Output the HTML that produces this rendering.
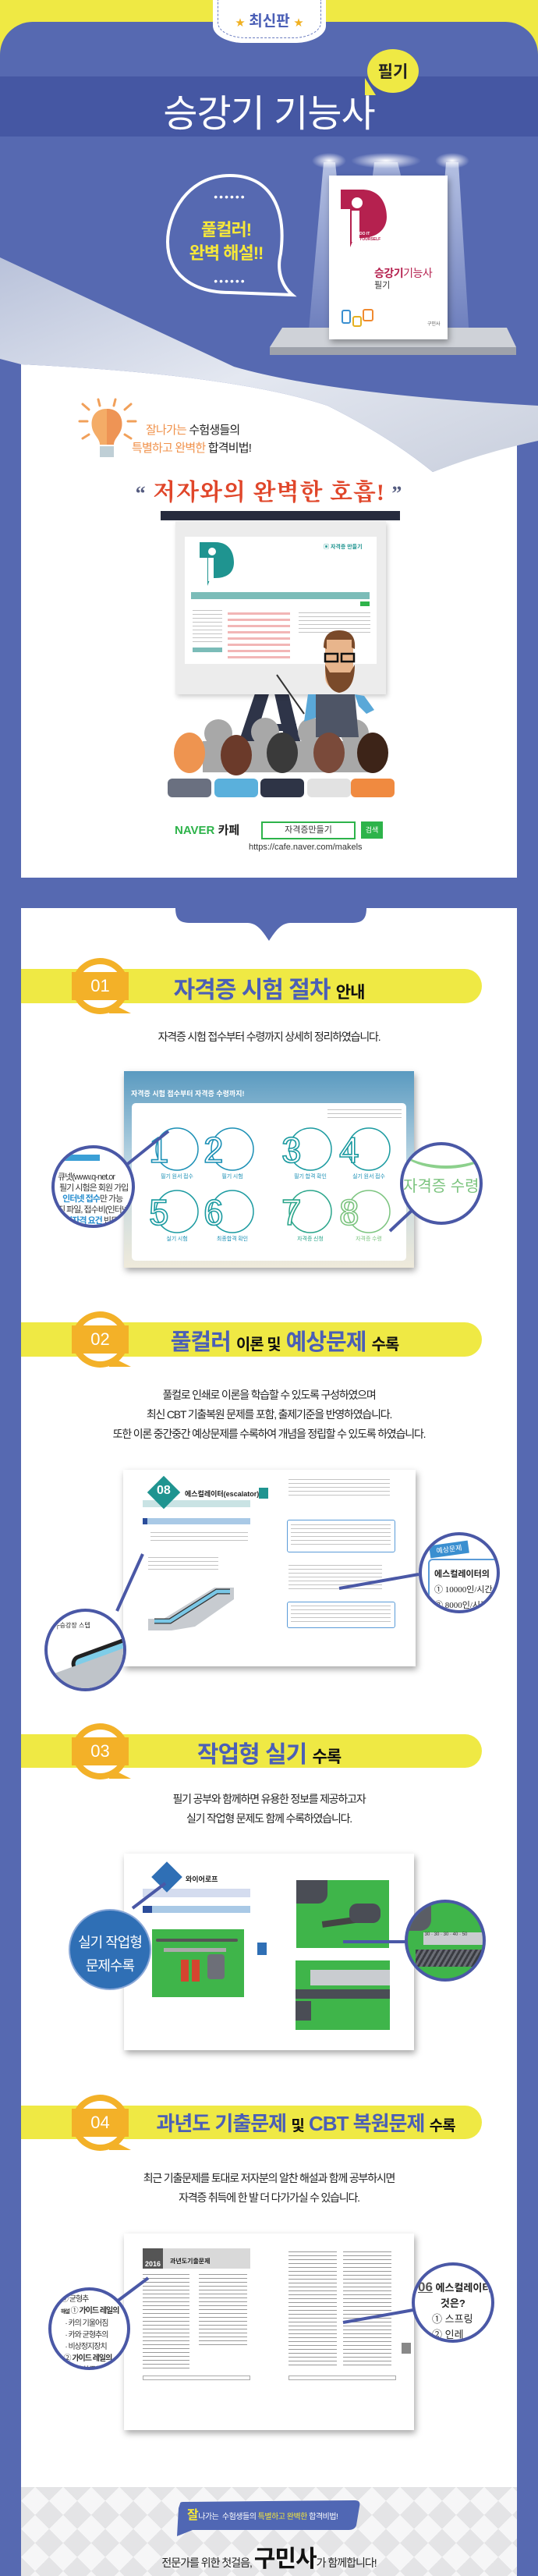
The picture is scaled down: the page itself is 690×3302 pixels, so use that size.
<!DOCTYPE html>
<html><head><meta charset="utf-8">
<style>
*{margin:0;padding:0;box-sizing:border-box}
body{width:690px;height:3302px;overflow:hidden;background:#5669b1;position:relative;font-family:"Liberation Sans","Noto Sans CJK KR",sans-serif}
.a{position:absolute}
.c{text-align:center;white-space:nowrap}
.tx{background:repeating-linear-gradient(#c4c4c4 0 1px,transparent 1px 5px)}
.txd{background:repeating-linear-gradient(#9a9a9a 0 1px,transparent 1px 5px)}
.shadow{box-shadow:2px 4px 8px rgba(0,0,0,.35)}
.body{font-size:14px;letter-spacing:-1.2px;color:#222;line-height:25px}
.mag{border:4px solid #4a58a6;border-radius:50%;background:#fff;overflow:hidden}
</style></head><body>

<!-- top -->
<div class="a" style="left:0;top:0;width:690px;height:70px;background:#efe944"></div>
<div class="a" style="left:0;top:28px;width:690px;height:3274px;background:#5669b1;border-radius:42px 42px 0 0"></div>
<div class="a" style="left:0;top:98px;width:690px;height:77px;background:#4557a3"></div>
<div class="a" style="left:273px;top:0;width:145px;height:55px;background:#fff;border-radius:0 0 40px 40px/0 0 22px 22px"></div>
<div class="a" style="left:279px;top:0;width:133px;height:49px;border:1.5px dashed #6a7cc0;border-top:none;border-radius:0 0 36px 36px/0 0 20px 20px"></div>
<div class="a c" style="left:273px;top:12px;width:145px;font-size:19px;font-weight:bold;color:#4b5fb6"><span style="color:#f0b020;font-size:12px">★</span> 최신판 <span style="color:#f0b020;font-size:12px">★</span></div>
<div class="a c" style="left:145px;top:106px;width:400px;font-size:48px;color:#fff;letter-spacing:-1px">승강기 기능사</div>
<div class="a" style="left:471px;top:63px;width:66px;height:56px;background:#efe944;border-radius:50%"></div>
<div class="a" style="left:468px;top:100px;width:0;height:0;border-left:14px solid #efe944;border-top:22px solid transparent;transform:rotate(0deg)"></div>
<div class="a c" style="left:471px;top:76px;width:66px;font-size:21px;font-weight:bold;color:#222">필기</div>

<!-- speech bubble -->
<svg class="a" style="left:200px;top:215px" width="190" height="180">
<path d="M95,10 C40,10 15,60 15,95 C15,135 45,160 95,160 L175,163 C160,150 155,130 160,110 C168,50 145,10 95,10 Z" fill="none" stroke="#fff" stroke-width="4"/>
<text x="95" y="42" fill="#fff" font-size="14" text-anchor="middle" letter-spacing="2">••••••</text>
<text x="95" y="150" fill="#fff" font-size="14" text-anchor="middle" letter-spacing="2">••••••</text>
</svg>
<div class="a c" style="left:210px;top:280px;width:160px;font-size:22px;font-weight:bold;color:#f5e73a;line-height:30px;letter-spacing:-1px">풀컬러!<br>완벽 해설!!</div>

<!-- spotlights -->
<svg class="a" style="left:340px;top:190px" width="330" height="270">
<defs><radialGradient id="g"><stop offset="0" stop-color="#fff"/><stop offset="1" stop-color="#fff" stop-opacity="0"/></radialGradient>
<linearGradient id="cone" x1="0" y1="0" x2="0" y2="1"><stop offset="0" stop-color="#dde6f8" stop-opacity=".7"/><stop offset="1" stop-color="#dde6f8" stop-opacity=".15"/></linearGradient></defs>
<polygon points="75,18 90,18 112,245 55,245" fill="url(#cone)"/>
<polygon points="140,18 170,18 180,60 135,60" fill="url(#cone)"/>
<polygon points="232,18 248,18 262,245 215,245" fill="url(#cone)"/>
<ellipse cx="82" cy="16" rx="22" ry="10" fill="url(#g)"/>
<ellipse cx="155" cy="16" rx="45" ry="10" fill="url(#g)"/>
<ellipse cx="240" cy="16" rx="22" ry="10" fill="url(#g)"/>
<ellipse cx="88" cy="248" rx="40" ry="10" fill="url(#g)"/>
<ellipse cx="245" cy="248" rx="40" ry="10" fill="url(#g)"/>
</svg>
<!-- shelf -->
<svg class="a" style="left:340px;top:415px" width="330" height="45">
<polygon points="22,5 310,5 322,30 6,30" fill="#cfd2d8"/>
<rect x="6" y="30" width="316" height="10" fill="#9ea2ab"/>
</svg>
<!-- book -->
<div class="a shadow" style="left:422px;top:225px;width:152px;height:210px;background:#fff"></div>
<svg class="a" style="left:434px;top:240px" width="70" height="80">
<path d="M3,3 L30,3 C58,3 62,28 62,38 C62,55 48,65 30,65 L20,65 L15,77 L15,28 L3,28 Z" fill="#b5214f"/>
<circle cx="24" cy="20" r="7" fill="#fff"/><rect x="17" y="30" width="10" height="40" fill="#fff"/>
<text x="27" y="61" fill="#fff" font-size="5" font-weight="bold">DO IT</text><text x="27" y="68" fill="#b5214f" font-size="5" font-weight="bold">YOURSELF</text>
</svg>
<div class="a" style="left:480px;top:340px;font-size:14px;font-weight:bold;color:#b5214f;white-space:nowrap;letter-spacing:-0.5px">승강기<span style="font-weight:normal">기능사</span></div>
<div class="a" style="left:480px;top:357px;font-size:11px;color:#333">필기</div>
<div class="a" style="left:438px;top:397px;width:12px;height:18px;border:2px solid #3a8fd0;border-radius:3px"></div>
<div class="a" style="left:452px;top:405px;width:12px;height:14px;border:2px solid #e5b020;border-radius:3px"></div>
<div class="a" style="left:465px;top:396px;width:14px;height:16px;border:2px solid #f08a30;border-radius:3px"></div>
<div class="a" style="left:548px;top:410px;font-size:6px;color:#555">구민사</div>

<!-- white panel 1 -->
<div class="a" style="left:27px;top:462px;width:636px;height:663px;background:#fff"></div>
<svg class="a" style="left:0;top:300px" width="690" height="330">
<defs><linearGradient id="curl" x1="0" y1="0" x2="1" y2="1"><stop offset="0" stop-color="#b9c2da"/><stop offset=".5" stop-color="#e4e8f1"/><stop offset="1" stop-color="#c9cfdd"/></linearGradient></defs>
<path d="M27,160 L27,167 Q300,180 420,220 Q500,260 555,305 Q620,280 663,270 L663,160 Z" fill="#5669b1"/>
<path d="M0,30 Q150,100 300,170 Q420,205 690,220 L690,265 Q620,280 555,305 Q500,260 420,220 Q300,180 27,167 L0,160 Z" fill="url(#curl)"/>
</svg>

<!-- bulb -->
<svg class="a" style="left:98px;top:510px" width="80" height="82">
<g stroke="#f1a05a" stroke-width="3" stroke-linecap="round"><line x1="4" y1="30" x2="14" y2="30"/><line x1="8" y1="8" x2="16" y2="15"/><line x1="28" y1="2" x2="30" y2="10"/><line x1="50" y1="2" x2="48" y2="10"/><line x1="70" y1="8" x2="62" y2="15"/><line x1="76" y1="30" x2="66" y2="30"/><line x1="8" y1="52" x2="16" y2="47"/><line x1="70" y1="52" x2="62" y2="47"/></g>
<path d="M39,14 C22,14 18,28 20,38 C22,48 30,52 30,60 L48,60 C48,52 56,48 58,38 C60,28 56,14 39,14Z" fill="#f4ac67"/>
<path d="M39,14 L39,60 L48,60 C48,52 56,48 58,38 C60,28 56,14 39,14Z" fill="#ee9455"/>
<rect x="30" y="62" width="18" height="14" fill="#bfcfd6"/>
</svg>
<div class="a" style="left:187px;top:540px;font-size:15px;letter-spacing:-0.8px;color:#222;white-space:nowrap"><span style="color:#f0914a">잘나가는</span> 수험생들의</div>
<div class="a" style="left:169px;top:563px;font-size:15px;letter-spacing:-0.8px;color:#222;white-space:nowrap"><span style="color:#f0914a">특별하고 완벽한</span> 합격비법!</div>
<div class="a c" style="left:145px;top:606px;width:400px;font-size:30px;color:#e0462a;font-family:'Liberation Serif','Noto Serif CJK SC',serif;font-weight:bold;letter-spacing:1px"><span style="color:#555c80;font-size:26px">“</span> 저자와의 완벽한 호흡! <span style="color:#555c80;font-size:26px">”</span></div>

<!-- projector -->
<div class="a" style="left:206px;top:655px;width:307px;height:12px;background:#262b3d"></div>
<svg class="a" style="left:290px;top:880px" width="120" height="90"><polygon points="40,0 58,0 30,90 10,90" fill="#2e3448"/><polygon points="60,0 78,0 100,90 80,90" fill="#2e3448"/><rect x="25" y="48" width="65" height="9" fill="#2e3448"/></svg>
<div class="a" style="left:225px;top:668px;width:270px;height:222px;background:#ececec;box-shadow:2px 3px 6px rgba(0,0,0,.2)"></div>
<div class="a" style="left:237px;top:688px;width:246px;height:163px;background:#fff"></div>
<svg class="a" style="left:254px;top:693px" width="50" height="60"><path d="M2,2 L22,2 C42,2 46,18 46,28 C46,42 36,48 22,48 L16,48 L12,58 L12,22 L2,22 Z" fill="#1f9490"/><circle cx="18" cy="14" r="5" fill="#fff"/><rect x="13" y="22" width="7" height="30" fill="#fff"/></svg>
<div class="a" style="left:415px;top:696px;font-size:7px;color:#1f9490;font-weight:bold">▣ 자격증 만들기</div>
<div class="a" style="left:245px;top:759px;width:229px;height:9px;background:#7bbcb8"></div>
<div class="a" style="left:462px;top:771px;width:12px;height:6px;background:#2fb34a"></div>
<div class="a tx" style="left:247px;top:782px;width:38px;height:44px"></div>
<div class="a" style="left:247px;top:830px;width:38px;height:6px;background:#7bbcb8"></div>
<div class="a" style="left:292px;top:785px;width:80px;height:60px;background:repeating-linear-gradient(#f2b6b6 0 3px,transparent 3px 8px)"></div>
<div class="a tx" style="left:383px;top:785px;width:92px;height:30px"></div>

<!-- audience -->
<svg class="a" style="left:205px;top:800px" width="310" height="225">
<g fill="#a8a8a8"><circle cx="75" cy="140" r="18"/><circle cx="135" cy="138" r="18"/><circle cx="195" cy="138" r="18"/><circle cx="250" cy="140" r="18"/><rect x="55" y="150" width="220" height="40"/></g>
<!-- teacher -->
<path d="M200,90 L250,90 L255,145 L200,145 Z" fill="#4e5566"/>
<path d="M190,90 L200,90 L200,120 L185,125 Z" fill="#5aa8d8"/><path d="M250,90 L262,92 L275,110 L265,115 L255,105Z" fill="#5aa8d8"/>
<line x1="150" y1="65" x2="185" y2="115" stroke="#333" stroke-width="2"/>
<rect x="212" y="12" width="36" height="72" rx="16" fill="#e8b58c"/>
<path d="M210,30 Q210,8 230,8 Q252,8 250,32 L246,30 L246,20 L214,20 L214,32Z" fill="#7a4a2a"/>
<path d="M212,52 Q212,85 230,88 Q250,85 250,52 L244,62 L218,62Z" fill="#7a4a2a"/>
<rect x="212" y="38" width="16" height="10" fill="none" stroke="#111" stroke-width="2.5"/><rect x="233" y="38" width="16" height="10" fill="none" stroke="#111" stroke-width="2.5"/>
<!-- front row -->
<g><ellipse cx="38" cy="165" rx="20" ry="26" fill="#ee9450"/><rect x="10" y="198" width="56" height="24" rx="6" fill="#6a7080"/>
<ellipse cx="98" cy="168" rx="20" ry="26" fill="#6b3a2a"/><rect x="70" y="198" width="56" height="24" rx="6" fill="#5ab0dc"/>
<ellipse cx="157" cy="165" rx="20" ry="26" fill="#3a3a3a"/><rect x="129" y="198" width="56" height="24" rx="6" fill="#2e3446"/>
<ellipse cx="217" cy="165" rx="20" ry="26" fill="#7a4a3a"/><rect x="189" y="198" width="56" height="24" rx="6" fill="#e2e2e2"/>
<ellipse cx="273" cy="165" rx="20" ry="26" fill="#3d2418"/><rect x="245" y="198" width="56" height="24" rx="6" fill="#f08a40"/></g>
</svg>

<!-- naver -->
<div class="a" style="left:224px;top:1053px;font-size:15px;font-weight:bold;white-space:nowrap"><span style="color:#2db34a">NAVER</span> <span style="color:#222">카페</span></div>
<div class="a c" style="left:335px;top:1053px;width:121px;height:23px;border:2px solid #2db34a;font-size:11px;line-height:19px;color:#333">자격증만들기</div>
<div class="a c" style="left:463px;top:1053px;width:28px;height:22px;background:#2db34a;color:#fff;font-size:9px;line-height:22px">검색</div>
<div class="a" style="left:319px;top:1080px;font-size:11px;color:#333">https://cafe.naver.com/makels</div>

<!-- white panel 2 -->
<div class="a" style="left:27px;top:1164px;width:636px;height:2138px;background:#fff"></div>
<svg class="a" style="left:225px;top:1164px" width="245" height="45"><path d="M0,0 L245,0 C245,16 238,19 225,19 L148,19 C135,19 128,30 120,42 C112,30 105,19 92,19 L20,19 C7,19 0,16 0,0Z" fill="#5669b1"/></svg>

<!-- section header template -->
<!-- 01 -->
<div class="a" style="left:27px;top:1242px;width:591px;height:44px;background:#efe944;border-radius:0 22px 22px 0"></div>
<div class="a" style="left:92px;top:1228px;width:73px;height:72px;border-radius:50%;background:#f3b128"></div>
<div class="a" style="left:140px;top:1285px;width:0;height:0;border-left:28px solid #f3b128;border-top:14px solid transparent"></div>
<div class="a" style="left:100px;top:1236px;width:57px;height:56px;border-radius:50%;background:#fff"></div>
<div class="a c" style="left:92px;top:1246px;width:73px;height:36px;background:#f3b128;color:#fff;font-size:22px;line-height:36px">01</div>
<div class="a c" style="left:45px;top:1244px;width:600px;font-size:30px;font-weight:bold;letter-spacing:-1px;color:#4b5fb6">자격증 시험 절차 <span style="font-size:21px;color:#111">안내</span></div>
<div class="a c body" style="left:45px;top:1317px;width:600px">자격증 시험 접수부터 수령까지 상세히 정리하였습니다.</div>

<!-- image 01 -->
<div class="a shadow" style="left:159px;top:1373px;width:372px;height:252px;background:linear-gradient(#5a9ac0,#b8d4e2 45%,#efeadb)"></div>
<div class="a" style="left:168px;top:1395px;font-size:9px;font-weight:bold;color:#fff;white-space:nowrap">자격증 시험 접수부터 자격증 수령까지!</div>
<div class="a" style="left:169px;top:1414px;width:352px;height:202px;background:#fff;border-radius:5px"></div>
<div class="a tx" style="left:420px;top:1422px;width:95px;height:12px"></div>
<svg class="a" style="left:169px;top:1414px" width="352" height="202" font-family="Liberation Sans">
<g fill="none" stroke-width="1.5">
<g stroke="#1a8fb5"><circle cx="58" cy="59" r="27"/><circle cx="129" cy="59" r="27"/></g>
<g stroke="#1a9aa0"><circle cx="229" cy="59" r="27"/><circle cx="304" cy="59" r="27"/><circle cx="58" cy="139" r="27"/><circle cx="129" cy="139" r="27"/></g>
<g stroke="#2aa58a"><circle cx="229" cy="139" r="27"/></g><g stroke="#7cc47f"><circle cx="304" cy="139" r="27"/></g></g>
<g font-size="46" fill="#fff" stroke-width="1.6">
<text x="22" y="76" stroke="#1a8fb5">1</text><text x="92" y="76" stroke="#1a8fb5">2</text><text x="192" y="76" stroke="#1a9aa0">3</text><text x="266" y="76" stroke="#1a9aa0">4</text>
<text x="22" y="156" stroke="#1a9aa0">5</text><text x="92" y="156" stroke="#1a9aa0">6</text><text x="192" y="156" stroke="#2aa58a">7</text><text x="266" y="156" stroke="#7cc47f">8</text></g>
<g font-size="7" fill="#1a8fb5" text-anchor="middle" font-family="Noto Sans CJK KR"><text x="58" y="96">필기 원서 접수</text><text x="129" y="96">필기 시험</text><text x="229" y="96">필기 합격 확인</text><text x="304" y="96">실기 원서 접수</text>
<text x="58" y="176">실기 시험</text><text x="129" y="176">최종합격 확인</text><text x="229" y="176" fill="#2aa58a">자격증 신청</text><text x="304" y="176" fill="#7cc47f">자격증 수령</text></g>
</svg>
<svg class="a" style="left:0;top:1400px" width="690" height="240"><line x1="160" y1="95" x2="216" y2="50" stroke="#4a58a6" stroke-width="4"/><line x1="530" y1="150" x2="500" y2="178" stroke="#4a58a6" stroke-width="4"/></svg>
<div class="a mag" style="left:66px;top:1468px;width:107px;height:106px">
<div style="position:absolute;left:-2px;top:8px;width:60px;height:8px;background:#3a9fd6"></div>
<div style="position:absolute;left:4px;top:30px;font-size:11px;line-height:14px;color:#333;white-space:nowrap;letter-spacing:-1px">큐넷(www.q-net.or<br>&nbsp;필기 시험은 회원 가입<br>&nbsp;&nbsp;&nbsp;<b style="color:#2a8fd0">인터넷 접수</b>만 가능<br>진 파일, 접수비(인터넷<br><b style="color:#2a8fd0">응시자격 요건</b> 빈드시</div></div>
<div class="a mag" style="left:513px;top:1464px;width:106px;height:106px">
<div style="position:absolute;left:-10px;top:-40px;width:130px;height:70px;border-bottom:4px solid #8cd08c;border-radius:50%"></div>
<div style="position:absolute;left:0;top:36px;font-size:20px;color:#7cc47f;white-space:nowrap">자격증 수령</div></div>

<!-- 02 -->
<div class="a" style="left:27px;top:1695px;width:591px;height:44px;background:#efe944;border-radius:0 22px 22px 0"></div>
<div class="a" style="left:92px;top:1681px;width:73px;height:72px;border-radius:50%;background:#f3b128"></div>
<div class="a" style="left:140px;top:1738px;width:0;height:0;border-left:28px solid #f3b128;border-top:14px solid transparent"></div>
<div class="a" style="left:100px;top:1689px;width:57px;height:56px;border-radius:50%;background:#fff"></div>
<div class="a c" style="left:92px;top:1699px;width:73px;height:36px;background:#f3b128;color:#fff;font-size:22px;line-height:36px">02</div>
<div class="a c" style="left:65px;top:1697px;width:600px;font-size:29px;font-weight:bold;letter-spacing:-1px;color:#4b5fb6">풀컬러 <span style="font-size:20px;color:#111">이론 및</span> 예상문제 <span style="font-size:20px;color:#111">수록</span></div>
<div class="a c body" style="left:45px;top:1776px;width:600px">풀컬로 인쇄로 이론을 학습할 수 있도록 구성하였으며<br>최신 CBT 기출복원 문제를 포함, 출제기준을 반영하였습니다.<br>또한 이론 중간중간 예상문제를 수록하여 개념을 정립할 수 있도록 하였습니다.</div>

<div class="a shadow" style="left:158px;top:1884px;width:375px;height:252px;background:#fff"></div>
<div class="a" style="left:183px;top:1902px;width:138px;height:30px;background:linear-gradient(#fff 0 70%,#c9e3e4 70%)"></div>
<div class="a" style="left:195px;top:1898px;width:30px;height:30px;background:#1f9490;transform:rotate(45deg)"></div>
<div class="a" style="left:201px;top:1902px;font-size:16px;color:#fff;font-weight:bold">08</div>
<div class="a" style="left:237px;top:1908px;font-size:9px;font-weight:bold;color:#222;white-space:nowrap">에스컬레이터(escalator)</div>
<div class="a" style="left:332px;top:1907px;width:12px;height:14px;background:#1f9490"></div>
<div class="a" style="left:183px;top:1946px;width:138px;height:8px;background:#a9c9e6;border-left:6px solid #2a4c9a"></div>
<div class="a tx" style="left:193px;top:1964px;width:125px;height:14px"></div>
<div class="a tx" style="left:190px;top:1996px;width:90px;height:20px"></div>
<svg class="a" style="left:190px;top:2030px" width="120" height="60"><polygon points="0,60 0,45 20,45 85,5 110,5 110,20 60,55 30,60" fill="#c7cbd0"/><path d="M8,48 L28,48 L88,10 L105,10" stroke="#333" stroke-width="7" fill="none"/><path d="M8,48 L28,48 L88,10 L105,10" stroke="#79c7e6" stroke-width="4.5" fill="none"/></svg>
<div class="a tx" style="left:370px;top:1896px;width:130px;height:24px"></div>
<div class="a" style="left:368px;top:1948px;width:139px;height:42px;border:1.5px solid #5a9bd8;border-radius:3px"></div>
<div class="a tx" style="left:373px;top:1954px;width:128px;height:30px"></div>
<div class="a tx" style="left:370px;top:2006px;width:120px;height:34px"></div>
<div class="a" style="left:368px;top:2053px;width:139px;height:34px;border:1.5px solid #5a9bd8;border-radius:3px"></div>
<div class="a tx" style="left:373px;top:2058px;width:128px;height:24px"></div>
<svg class="a" style="left:0;top:1950px" width="690" height="140"><line x1="183" y1="42" x2="150" y2="115" stroke="#4a58a6" stroke-width="4"/><line x1="537" y1="68" x2="435" y2="86" stroke="#4a58a6" stroke-width="4"/></svg>
<div class="a mag" style="left:57px;top:2062px;width:105px;height:106px;background:#fff">
<div style="position:absolute;left:10px;top:12px;font-size:8px;color:#222;white-space:nowrap">┌승강장 스텝</div>
<div style="position:absolute;left:28px;top:40px;width:110px;height:24px;border:5px solid #222;border-radius:12px;background:#7fcde8;transform:rotate(-20deg)"></div>
<div style="position:absolute;left:0;top:62px;width:120px;height:50px;background:#bfc4c9;transform:rotate(-20deg)"></div></div>
<div class="a mag" style="left:537px;top:1964px;width:104px;height:104px">
<div style="position:absolute;left:10px;top:10px;width:50px;height:16px;background:#3a8fd0;color:#fff;font-size:9px;line-height:16px;text-align:center;transform:rotate(-8deg)">예상문제</div>
<div style="position:absolute;left:8px;top:30px;width:110px;height:70px;border:2px solid #5a9bd8;border-radius:6px"></div>
<div style="position:absolute;left:16px;top:40px;font-size:11px;font-weight:bold;color:#222;white-space:nowrap;line-height:20px">에스컬레이터의<br><span style="font-weight:normal;font-family:'Liberation Serif',serif">① 10000인/시간<br>③ 8000인/시간</span></div></div>

<!-- 03 -->
<div class="a" style="left:27px;top:2223px;width:591px;height:43px;background:#efe944;border-radius:0 22px 22px 0"></div>
<div class="a" style="left:92px;top:2209px;width:73px;height:72px;border-radius:50%;background:#f3b128"></div>
<div class="a" style="left:140px;top:2266px;width:0;height:0;border-left:28px solid #f3b128;border-top:14px solid transparent"></div>
<div class="a" style="left:100px;top:2217px;width:57px;height:56px;border-radius:50%;background:#fff"></div>
<div class="a c" style="left:92px;top:2227px;width:73px;height:36px;background:#f3b128;color:#fff;font-size:22px;line-height:36px">03</div>
<div class="a c" style="left:45px;top:2224px;width:600px;font-size:30px;font-weight:bold;letter-spacing:-1px;color:#4b5fb6">작업형 실기 <span style="font-size:21px;color:#111">수록</span></div>
<div class="a c body" style="left:45px;top:2294px;width:600px">필기 공부와 함께하면 유용한 정보를 제공하고자<br>실기 작업형 문제도 함께 수록하였습니다.</div>

<div class="a shadow" style="left:159px;top:2376px;width:372px;height:252px;background:#fff"></div>
<div class="a" style="left:183px;top:2396px;width:138px;height:36px;background:linear-gradient(#fff 0 70%,#d4dcef 70%)"></div>
<div class="a" style="left:200px;top:2392px;width:28px;height:28px;background:#2f6fb5;transform:rotate(45deg)"></div>
<div class="a" style="left:238px;top:2402px;font-size:9px;font-weight:bold;color:#222">와이어로프</div>
<div class="a" style="left:183px;top:2443px;width:138px;height:9px;background:#a9c9e6;border-left:12px solid #2a4c9a"></div>
<div class="a" style="left:195px;top:2473px;width:118px;height:87px;background:#3fb54a"></div>
<div class="a" style="left:200px;top:2485px;width:105px;height:4px;background:#555;border-radius:2px"></div>
<div class="a" style="left:210px;top:2497px;width:80px;height:5px;background:#aaa"></div>
<div class="a" style="left:232px;top:2512px;width:10px;height:28px;background:#d5452f"></div>
<div class="a" style="left:246px;top:2512px;width:10px;height:28px;background:#d5452f"></div>
<div class="a" style="left:266px;top:2505px;width:22px;height:32px;background:#6d6f78;border-radius:4px"></div>
<div class="a" style="left:330px;top:2490px;width:12px;height:16px;background:#2f6fb5"></div>
<div class="a" style="left:380px;top:2410px;width:119px;height:87px;background:#3fb54a"></div>
<div class="a" style="left:380px;top:2410px;width:40px;height:30px;background:#4a4d55;border-radius:0 0 12px 0"></div>
<div class="a" style="left:413px;top:2458px;width:70px;height:8px;background:#444;transform:rotate(-8deg)"></div>
<div class="a" style="left:448px;top:2440px;width:40px;height:25px;background:#4a4d55;border-radius:10px"></div>
<div class="a" style="left:379px;top:2513px;width:121px;height:89px;background:#3fb54a"></div>
<div class="a" style="left:398px;top:2525px;width:102px;height:20px;background:#c9ccd0"></div>
<div class="a" style="left:379px;top:2550px;width:121px;height:12px;background:#4a4d55"></div>
<div class="a" style="left:379px;top:2565px;width:20px;height:25px;background:#4a4d55"></div>
<svg class="a" style="left:0;top:2400px" width="690" height="100"><line x1="170" y1="46" x2="212" y2="14" stroke="#4a58a6" stroke-width="4"/><line x1="440" y1="89" x2="520" y2="89" stroke="#4a58a6" stroke-width="4"/></svg>
<div class="a c" style="left:88px;top:2447px;width:106px;height:104px;border-radius:50%;background:#2f6fb5;border:2px solid #8aa8d8;color:#fff;font-size:18px;line-height:30px;padding-top:26px;letter-spacing:-1px">실기 작업형<br>문제수록</div>
<div class="a mag" style="left:519px;top:2435px;width:104px;height:105px;background:#3fb54a">
<div style="position:absolute;left:20px;top:38px;width:90px;height:16px;background:#c9ccd0;font-size:6px;color:#333">&nbsp;30 · 30 · 30 · 40 · 50</div>
<div style="position:absolute;left:10px;top:60px;width:95px;height:22px;background:repeating-linear-gradient(-60deg,#3a3c42 0 3px,#6a6d75 3px 6px)"></div>
<div style="position:absolute;left:0;top:0;width:30px;height:36px;background:#5a5d65;border-radius:0 0 14px 0"></div></div>

<!-- 04 -->
<div class="a" style="left:27px;top:2699px;width:591px;height:43px;background:#efe944;border-radius:0 22px 22px 0"></div>
<div class="a" style="left:92px;top:2685px;width:73px;height:72px;border-radius:50%;background:#f3b128"></div>
<div class="a" style="left:140px;top:2742px;width:0;height:0;border-left:28px solid #f3b128;border-top:14px solid transparent"></div>
<div class="a" style="left:100px;top:2693px;width:57px;height:56px;border-radius:50%;background:#fff"></div>
<div class="a c" style="left:92px;top:2703px;width:73px;height:36px;background:#f3b128;color:#fff;font-size:22px;line-height:36px">04</div>
<div class="a c" style="left:92px;top:2702px;width:600px;font-size:26px;font-weight:bold;letter-spacing:-1px;color:#4b5fb6">과년도 기출문제 <span style="font-size:19px;color:#111">및</span> CBT 복원문제 <span style="font-size:19px;color:#111">수록</span></div>
<div class="a c body" style="left:45px;top:2780px;width:600px">최근 기출문제를 토대로 저자분의 알찬 해설과 함께 공부하시면<br>자격증 취득에 한 발 더 다가가실 수 있습니다.</div>

<div class="a shadow" style="left:159px;top:2863px;width:372px;height:252px;background:#fff"></div>
<div class="a" style="left:183px;top:2882px;width:138px;height:26px;background:#d9d9d9"></div>
<div class="a" style="left:183px;top:2882px;width:26px;height:26px;background:#555;color:#fff;font-size:9px;font-weight:bold;line-height:40px;text-align:center">2016</div>
<div class="a" style="left:218px;top:2893px;font-size:8px;font-weight:bold;color:#222">과년도기출문제</div>
<div class="a txd" style="left:183px;top:2915px;width:60px;height:125px"></div>
<div class="a txd" style="left:255px;top:2915px;width:62px;height:95px"></div>
<div class="a" style="left:183px;top:3045px;width:138px;height:6px;border:1px solid #aaa"></div>
<div class="a txd" style="left:370px;top:2886px;width:62px;height:150px"></div>
<div class="a txd" style="left:440px;top:2886px;width:62px;height:150px"></div>
<div class="a" style="left:370px;top:3045px;width:138px;height:6px;border:1px solid #aaa"></div>
<div class="a" style="left:515px;top:3003px;width:12px;height:14px;background:#888"></div>
<svg class="a" style="left:0;top:2900px" width="690" height="100"><line x1="150" y1="50" x2="190" y2="20" stroke="#4a58a6" stroke-width="4"/><line x1="530" y1="61" x2="440" y2="77" stroke="#4a58a6" stroke-width="4"/></svg>
<div class="a mag" style="left:62px;top:2932px;width:105px;height:106px">
<div style="position:absolute;left:12px;top:4px;font-size:10px;line-height:15px;color:#333;white-space:nowrap;letter-spacing:-1px">④ 균형추<br><b style="font-size:7px">해설</b> ① <b>가이드 레일의</b><br>&nbsp;&nbsp;&nbsp;· 카의 기울어짐<br>&nbsp;&nbsp;&nbsp;· 카와 균형추의<br>&nbsp;&nbsp;&nbsp;· 비상정지장치<br>&nbsp;&nbsp;② <b>가이드 레일의</b><br>&nbsp;&nbsp;&nbsp;· 레일 하중을</div></div>
<div class="a mag" style="left:528px;top:2900px;width:106px;height:103px">
<div style="position:absolute;left:4px;top:18px;font-size:13px;line-height:20px;color:#222;white-space:nowrap;font-weight:bold"><span style="font-size:17px;color:#555;text-decoration:underline">06</span> 에스컬레이터<br>&nbsp;&nbsp;&nbsp;&nbsp;&nbsp;&nbsp;&nbsp;&nbsp;것은?<br><span style="font-weight:normal">&nbsp;&nbsp;&nbsp;&nbsp;&nbsp;① 스프링<br>&nbsp;&nbsp;&nbsp;&nbsp;&nbsp;② 인레</span></div></div>

<!-- footer -->
<div class="a" style="left:27px;top:3188px;width:636px;height:114px;background-color:#f6f6f7;background-image:linear-gradient(45deg,#e4e4e6 25%,transparent 25%,transparent 75%,#e4e4e6 75%),linear-gradient(-45deg,#e4e4e6 25%,transparent 25%,transparent 75%,#e4e4e6 75%);background-size:36px 36px;opacity:1"></div>
<svg class="a" style="left:225px;top:3205px" width="240" height="50"><path d="M6,4 Q6,2 10,2 L230,0 Q238,0 236,8 L232,32 Q230,38 222,38 L22,38 L2,46 L4,10Z" fill="#5067b4"/></svg>
<div class="a" style="left:240px;top:3210px;font-size:10px;color:#fff;white-space:nowrap;letter-spacing:-0.5px"><span style="color:#f5e73a;font-size:16px;font-weight:bold">잘</span>나가는 &nbsp;수험생들의 <span style="color:#f5e73a">특별하고 완벽한</span> 합격비법!</div>
<div class="a c" style="left:45px;top:3255px;width:600px;font-size:14px;color:#222;letter-spacing:-1px;white-space:nowrap">전문가를 위한 첫걸음, <span style="font-size:30px;font-weight:bold;color:#111">구민사</span>가 함께합니다!</div>
</body></html>
